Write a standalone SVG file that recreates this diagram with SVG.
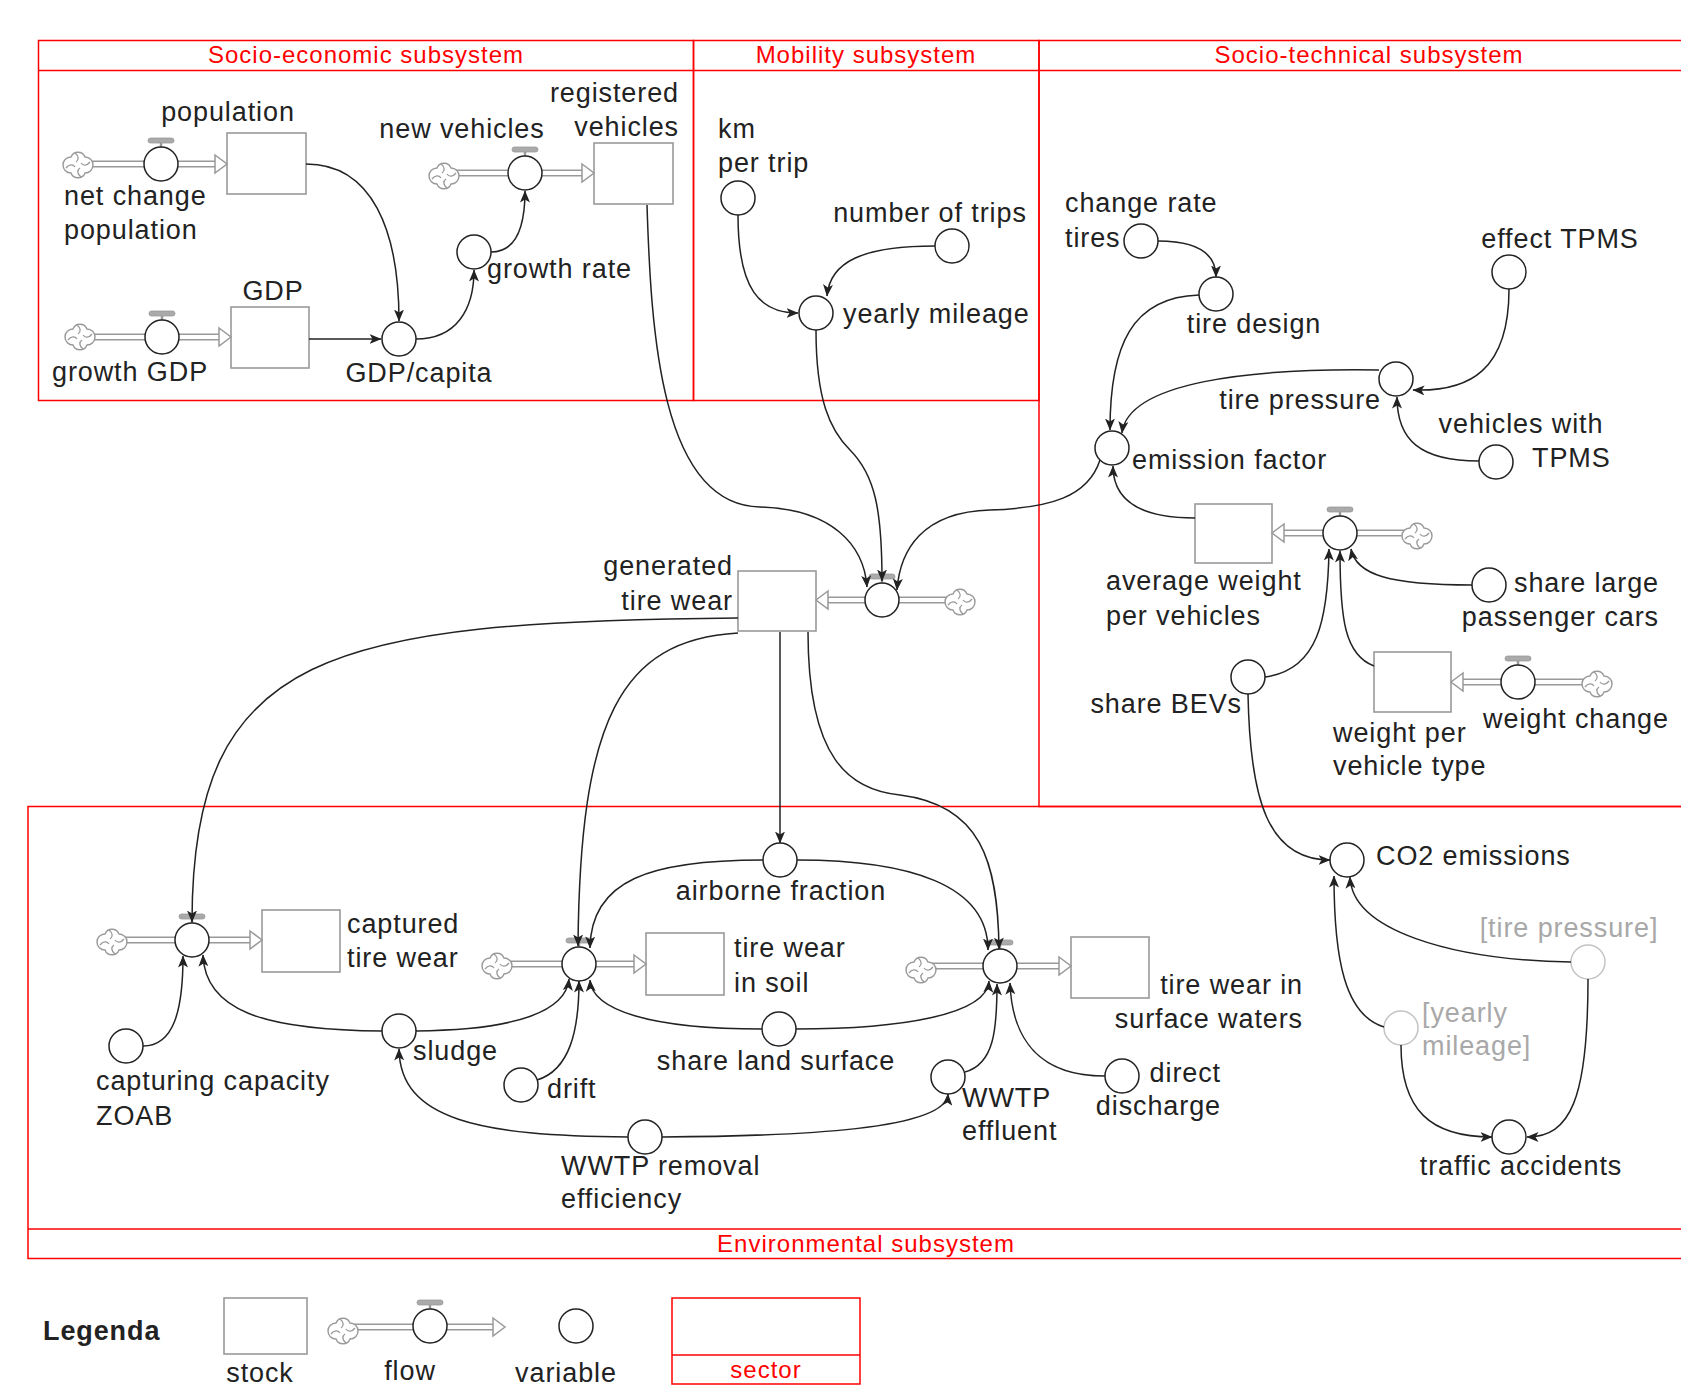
<svg xmlns="http://www.w3.org/2000/svg" xmlns:xlink="http://www.w3.org/1999/xlink" width="1681" height="1388" viewBox="0 0 1681 1388">
<style>
text { font-family: "Liberation Sans", Arial, sans-serif; font-size: 27px; fill: #222; letter-spacing: 0.9px; }
.red { fill: #f00; font-size: 24px; letter-spacing: 1px; }
.gt { fill: #a8a8a8; }
.m { text-anchor: middle; }
.e { text-anchor: end; }
.b { font-weight: bold; }
.v { fill: #fff; stroke: #222; stroke-width: 1.5; }
.vg { fill: #fff; stroke: #c4c4c4; stroke-width: 1.5; }
.st { fill: #fff; stroke: #999; stroke-width: 1.6; }
.po { fill: none; stroke: #999; stroke-width: 7; }
.pi { fill: none; stroke: #fff; stroke-width: 4; }
.ph { fill: #fff; stroke: #999; stroke-width: 1.5; stroke-linejoin: miter; }
.cl { fill: #fff; stroke: #999; stroke-width: 1.4; }
.cls { fill: none; stroke: #999; stroke-width: 1.3; }
.lk { fill: none; stroke: #222; stroke-width: 1.5; marker-end: url(#arr); }
.sec { fill: none; stroke: #f00; stroke-width: 1.5; }
</style>
<defs>
<marker id="arr" markerUnits="userSpaceOnUse" markerWidth="12" markerHeight="10" viewBox="0 0 12 10" refX="11.5" refY="5" orient="auto"><path d="M0,0 L12,5 L0,10 L3,5 Z" fill="#222"/></marker>
<g id="cloud">
<path class="cl" d="M-7,-8 A7.5,7.5 0 0 1 7,-8 A7.5,7.5 0 0 1 7,8 A7.5,7.5 0 0 1 -7,8 A7.5,7.5 0 0 1 -7,-8 Z"/>
<path class="cls" d="M-3,-12 C1,-9 1,-5 -2,-3 M3,12 C-1,9 -1,5 2,3 M-12,3 C-9,-1 -5,-1 -3,2 M12,-3 C9,1 5,1 3,-2"/>
</g>
<g id="valve">
<line x1="0" y1="-22" x2="0" y2="-16" stroke="#999" stroke-width="2.5"/>
<rect x="-13" y="-26" width="26" height="5" rx="2.5" fill="#aaa" stroke="#999" stroke-width="0.8"/>
<circle r="17" class="v"/>
</g>
</defs>
<rect x="0" y="0" width="1681" height="1388" fill="#fff"/>

<g id="sectors">
<g id="sector-socio-economic"><rect class="sec" x="38.5" y="40.5" width="655" height="360"/><line class="sec" x1="38.5" y1="70.5" x2="693.5" y2="70.5"/><text class="red m" x="366" y="63">Socio-economic subsystem</text></g>
<g id="sector-mobility"><rect class="sec" x="693.5" y="40.5" width="345.5" height="360"/><line class="sec" x1="693.5" y1="70.5" x2="1039" y2="70.5"/><text class="red m" x="866" y="63">Mobility subsystem</text></g>
<g id="sector-socio-technical"><rect class="sec" x="1039" y="40.5" width="670" height="766"/><line class="sec" x1="1039" y1="70.5" x2="1709" y2="70.5"/><text class="red m" x="1369" y="63">Socio-technical subsystem</text></g>
<g id="sector-environmental"><rect class="sec" x="28" y="806.5" width="1680" height="452"/><line class="sec" x1="28" y1="1229" x2="1708" y2="1229"/><text class="red m" x="866" y="1252">Environmental subsystem</text></g>
</g>

<g id="nodes">
<!-- Socio-economic -->
<g id="stock-population"><rect class="st" x="227" y="133" width="79" height="61"/><text class="m" x="228" y="121">population</text></g>
<g id="flow-net-change-population"><path class="po" d="M78,164 H216"/><path class="pi" d="M78,164 H216"/><polygon class="ph" points="215,155 227,164 215,173"/><use xlink:href="#cloud" x="78" y="165"/><use xlink:href="#valve" x="161" y="164"/><text x="64" y="205">net change</text><text x="64" y="239">population</text></g>
<g id="stock-gdp"><rect class="st" x="231" y="307" width="78" height="61"/><text class="m" x="273" y="300">GDP</text></g>
<g id="flow-growth-gdp"><path class="po" d="M80,337 H220"/><path class="pi" d="M80,337 H220"/><polygon class="ph" points="219,328 231,337 219,346"/><use xlink:href="#cloud" x="80" y="337"/><use xlink:href="#valve" x="162" y="337"/><text x="52" y="381">growth GDP</text></g>
<g id="var-gdp-capita"><circle class="v" cx="399" cy="339" r="17"/><text class="m" x="419" y="382">GDP/capita</text></g>
<g id="var-growth-rate"><circle class="v" cx="474" cy="252" r="17"/><text x="487" y="278">growth rate</text></g>
<g id="stock-registered-vehicles"><rect class="st" x="594" y="143" width="79" height="61"/><text class="e" x="679" y="102">registered</text><text class="e" x="679" y="136">vehicles</text></g>
<g id="flow-new-vehicles"><path class="po" d="M444,173 H583"/><path class="pi" d="M444,173 H583"/><polygon class="ph" points="582,164 594,173 582,182"/><use xlink:href="#cloud" x="444" y="176"/><use xlink:href="#valve" x="525" y="173"/><text class="m" x="462" y="138">new vehicles</text></g>

<!-- Mobility -->
<g id="var-km-per-trip"><circle class="v" cx="738" cy="198" r="17"/><text x="718" y="138">km</text><text x="718" y="172">per trip</text></g>
<g id="var-number-of-trips"><circle class="v" cx="952" cy="246" r="17"/><text class="m" x="930" y="222">number of trips</text></g>
<g id="var-yearly-mileage"><circle class="v" cx="816" cy="313" r="17"/><text x="843" y="323">yearly mileage</text></g>

<!-- Socio-technical -->
<g id="var-change-rate-tires"><circle class="v" cx="1141" cy="241" r="17"/><text x="1065" y="212">change rate</text><text x="1065" y="247">tires</text></g>
<g id="var-tire-design"><circle class="v" cx="1216" cy="294" r="17"/><text class="m" x="1254" y="333">tire design</text></g>
<g id="var-effect-tpms"><circle class="v" cx="1509" cy="272" r="17"/><text class="m" x="1560" y="248">effect TPMS</text></g>
<g id="var-tire-pressure"><circle class="v" cx="1396" cy="379" r="17"/><text class="e" x="1381" y="409">tire pressure</text></g>
<g id="var-vehicles-with-tpms"><circle class="v" cx="1496" cy="462" r="17"/><text class="m" x="1521" y="433">vehicles with</text><text x="1532" y="467">TPMS</text></g>
<g id="var-emission-factor"><circle class="v" cx="1112" cy="448" r="17"/><text x="1132" y="469">emission factor</text></g>
<g id="stock-average-weight"><rect class="st" x="1195" y="504" width="77" height="59"/><text x="1106" y="590">average weight</text><text x="1106" y="625">per vehicles</text></g>
<g id="flow-average-weight"><path class="po" d="M1417,533 H1283"/><path class="pi" d="M1417,533 H1283"/><polygon class="ph" points="1284,524 1272,533 1284,542"/><use xlink:href="#cloud" x="1417" y="536"/><use xlink:href="#valve" x="1340" y="533"/></g>
<g id="var-share-large-passenger-cars"><circle class="v" cx="1489" cy="585" r="17"/><text class="e" x="1659" y="592">share large</text><text class="e" x="1659" y="626">passenger cars</text></g>
<g id="stock-weight-per-vehicle-type"><rect class="st" x="1374" y="652" width="77" height="60"/><text x="1333" y="742">weight per</text><text x="1333" y="775">vehicle type</text></g>
<g id="flow-weight-change"><path class="po" d="M1597,682 H1462"/><path class="pi" d="M1597,682 H1462"/><polygon class="ph" points="1463,673 1451,682 1463,691"/><use xlink:href="#cloud" x="1597" y="684"/><use xlink:href="#valve" x="1518" y="682"/><text class="m" x="1576" y="728">weight change</text></g>
<g id="var-share-bevs"><circle class="v" cx="1248" cy="677" r="17"/><text class="e" x="1242" y="713">share BEVs</text></g>

<!-- Generated tire wear -->
<g id="stock-generated-tire-wear"><rect class="st" x="738" y="571" width="78" height="60"/><text class="e" x="733" y="575">generated</text><text class="e" x="733" y="610">tire wear</text></g>
<g id="flow-generated-tire-wear"><path class="po" d="M960,600 H827"/><path class="pi" d="M960,600 H827"/><polygon class="ph" points="828,591 816,600 828,609"/><use xlink:href="#cloud" x="960" y="602"/><use xlink:href="#valve" x="882" y="600"/></g>

<!-- Environmental -->
<g id="stock-captured-tire-wear"><rect class="st" x="262" y="910" width="78" height="62"/><text x="347" y="933">captured</text><text x="347" y="967">tire wear</text></g>
<g id="flow-captured-tire-wear"><path class="po" d="M112,940 H251"/><path class="pi" d="M112,940 H251"/><polygon class="ph" points="250,931 262,940 250,949"/><use xlink:href="#cloud" x="112" y="942"/><use xlink:href="#valve" x="192" y="940"/></g>
<g id="var-capturing-capacity-zoab"><circle class="v" cx="126" cy="1046" r="17"/><text x="96" y="1090">capturing capacity</text><text x="96" y="1125">ZOAB</text></g>
<g id="var-sludge"><circle class="v" cx="399" cy="1031" r="17"/><text x="413" y="1060">sludge</text></g>
<g id="stock-tire-wear-in-soil"><rect class="st" x="646" y="933" width="78" height="62"/><text x="734" y="957">tire wear</text><text x="734" y="992">in soil</text></g>
<g id="flow-tire-wear-in-soil"><path class="po" d="M497,964 H635"/><path class="pi" d="M497,964 H635"/><polygon class="ph" points="634,955 646,964 634,973"/><use xlink:href="#cloud" x="497" y="966"/><use xlink:href="#valve" x="579" y="964"/></g>
<g id="var-airborne-fraction"><circle class="v" cx="780" cy="860" r="17"/><text class="m" x="781" y="900">airborne fraction</text></g>
<g id="stock-tire-wear-surface-waters"><rect class="st" x="1071" y="937" width="78" height="61"/><text class="e" x="1303" y="994">tire wear in</text><text class="e" x="1303" y="1028">surface waters</text></g>
<g id="flow-tire-wear-surface-waters"><path class="po" d="M921,966 H1060"/><path class="pi" d="M921,966 H1060"/><polygon class="ph" points="1059,957 1071,966 1059,975"/><use xlink:href="#cloud" x="921" y="970"/><use xlink:href="#valve" x="1000" y="966"/></g>
<g id="var-share-land-surface"><circle class="v" cx="779" cy="1029" r="17"/><text class="m" x="776" y="1070">share land surface</text></g>
<g id="var-drift"><circle class="v" cx="521" cy="1085" r="17"/><text x="547" y="1098">drift</text></g>
<g id="var-wwtp-removal-efficiency"><circle class="v" cx="645" cy="1137" r="17"/><text x="561" y="1175">WWTP removal</text><text x="561" y="1208">efficiency</text></g>
<g id="var-wwtp-effluent"><circle class="v" cx="948" cy="1077" r="17"/><text x="962" y="1107">WWTP</text><text x="962" y="1140">effluent</text></g>
<g id="var-direct-discharge"><circle class="v" cx="1122" cy="1076" r="17"/><text class="e" x="1221" y="1082">direct</text><text class="e" x="1221" y="1115">discharge</text></g>
<g id="var-co2-emissions"><circle class="v" cx="1347" cy="860" r="17"/><text x="1376" y="865">CO2 emissions</text></g>
<g id="shadow-tire-pressure"><circle class="vg" cx="1588" cy="962" r="17"/><text class="gt m" x="1569" y="937">[tire pressure]</text></g>
<g id="shadow-yearly-mileage"><circle class="vg" cx="1401" cy="1028" r="17"/><text class="gt" x="1422" y="1022">[yearly</text><text class="gt" x="1422" y="1055">mileage]</text></g>
<g id="var-traffic-accidents"><circle class="v" cx="1509" cy="1137" r="17"/><text class="m" x="1521" y="1175">traffic accidents</text></g>
</g>

<g id="connectors">
<path class="lk" d="M306,164 C372,164 399,230 399,321"/>
<path class="lk" d="M309,339 L381,339"/>
<path class="lk" d="M416,339 C456,339 474,310 474,270"/>
<path class="lk" d="M491,252 C517,252 525,226 525,191"/>
<path class="lk" d="M647,205 C651,330 660,505 760,507 C832,509 864,545 867,587"/>
<path class="lk" d="M738,215 C738,290 760,313 798,313"/>
<path class="lk" d="M935,246 C862,246 830,262 827,296"/>
<path class="lk" d="M816,330 C816,400 830,430 850,450 C875,475 882,510 882,581"/>
<path class="lk" d="M1100,460 C1088,497 1050,508 990,510 C922,512 900,550 897,590"/>
<path class="lk" d="M1158,241 C1195,241 1216,252 1216,277"/>
<path class="lk" d="M1199,295 C1132,297 1110,345 1110,430"/>
<path class="lk" d="M1379,370 C1250,368 1128,382 1122,433"/>
<path class="lk" d="M1509,289 C1509,370 1470,392 1413,390"/>
<path class="lk" d="M1479,461 C1420,461 1397,440 1397,397"/>
<path class="lk" d="M1195,518 C1140,518 1113,500 1113,466"/>
<path class="lk" d="M1472,585 C1390,585 1356,575 1351,549"/>
<path class="lk" d="M1374,666 C1345,655 1340,620 1340,551"/>
<path class="lk" d="M1265,677 C1318,670 1328,620 1329,549"/>
<path class="lk" d="M1248,694 C1250,800 1268,860 1330,860"/>
<path class="lk" d="M738,618 C330,622 192,650 192,922"/>
<path class="lk" d="M143,1046 C174,1046 183,1010 183,956"/>
<path class="lk" d="M382,1031 C262,1030 205,1010 203,955"/>
<path class="lk" d="M416,1031 C520,1030 566,1010 569,979"/>
<path class="lk" d="M628,1137 C480,1136 400,1120 399,1049"/>
<path class="lk" d="M662,1137 C800,1136 946,1130 948,1094"/>
<path class="lk" d="M965,1072 C994,1064 997,1030 997,984"/>
<path class="lk" d="M1105,1076 C1040,1076 1012,1040 1010,983"/>
<path class="lk" d="M762,1029 C650,1029 592,1010 590,980"/>
<path class="lk" d="M796,1029 C900,1029 987,1015 989,981"/>
<path class="lk" d="M537,1080 C570,1070 579,1030 579,981"/>
<path class="lk" d="M763,860 C650,860 591,880 590,948"/>
<path class="lk" d="M797,860 C910,860 988,885 988,950"/>
<path class="lk" d="M780,632 L780,843"/>
<path class="lk" d="M738,633 C620,640 580,720 578,946"/>
<path class="lk" d="M808,632 C808,760 850,790 900,795 C980,805 998,860 999,949"/>
<path class="lk" d="M1571,962 C1450,960 1352,930 1350,877"/>
<path class="lk" d="M1384,1027 C1345,1015 1334,960 1334,876"/>
<path class="lk" d="M1401,1045 C1401,1110 1430,1137 1492,1137"/>
<path class="lk" d="M1588,979 C1588,1100 1570,1137 1527,1137"/>
</g>

<g id="legend">
<text class="b" x="43" y="1340">Legenda</text>
<g id="legend-stock"><rect class="st" x="224" y="1298" width="83" height="56"/><text class="m" x="260" y="1382">stock</text></g>
<g id="legend-flow"><path class="po" d="M343,1327 H494"/><path class="pi" d="M343,1327 H494"/><polygon class="ph" points="493,1318 505,1327 493,1336"/><use xlink:href="#cloud" x="343" y="1331"/><use xlink:href="#valve" x="430" y="1326"/><text class="m" x="410" y="1380">flow</text></g>
<g id="legend-variable"><circle class="v" cx="576" cy="1326" r="17"/><text class="m" x="566" y="1382">variable</text></g>
<g id="legend-sector"><rect class="sec" x="672" y="1298" width="188" height="86"/><line class="sec" x1="672" y1="1355" x2="860" y2="1355"/><text class="red m" x="766" y="1378">sector</text></g>
</g>
</svg>
